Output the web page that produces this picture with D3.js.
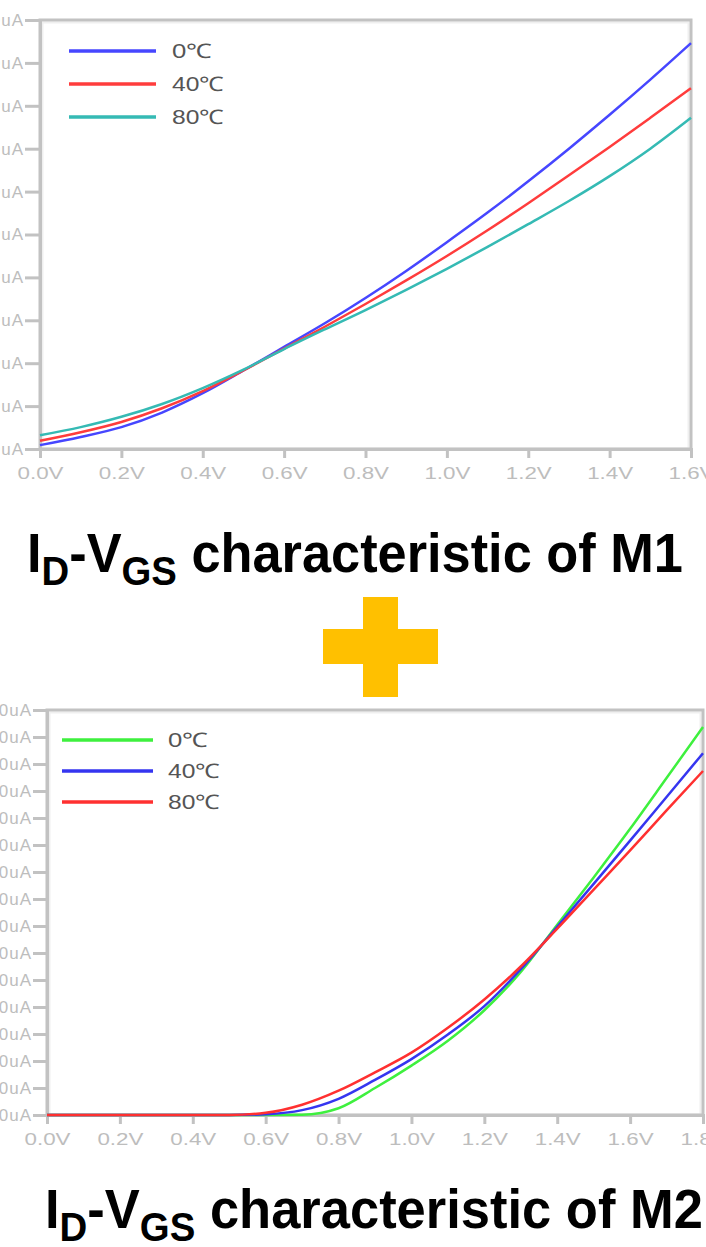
<!DOCTYPE html>
<html><head><meta charset="utf-8">
<script src="https://cdn.jsdelivr.net/npm/d3@7"></script>
<style>body{margin:0;background:#fff}svg{display:block}</style>
</head><body>
<svg id="c" width="706" height="1247"></svg>
<script>
// ---- M1 data (top chart) ----
const m1Vgs   = [0,0.1,0.2,0.3,0.4,0.5,0.6,0.7,0.8,0.9,1.0,1.1,1.2,1.3,1.4,1.5,1.6];
const m1_0C   = [0.9,2.8,5.1,8.5,13,18.3,23.8,29.3,35.2,41.5,48.2,55.1,62.4,70,77.9,86.1,94.6];
const m1_40C  = [1.9,3.9,6.3,9.5,13.5,18.3,23.4,28.5,33.8,39.3,45,51,57.3,63.8,70.4,77.2,84.1];
const m1_80C  = [3.2,5.1,7.5,10.5,14.2,18.5,23.3,27.9,32.4,37.1,42,47.1,52.4,57.8,63.6,70,77.2];
const m1XTicks = [0,0.2,0.4,0.6,0.8,1.0,1.2,1.4,1.6];
const m1YTicks = [0,10,20,30,40,50,60,70,80,90,100];
const m1Labels = ["0℃","40℃","80℃"];

// ---- M2 data (bottom chart) ----
const m2Vgs   = [0,0.1,0.2,0.3,0.4,0.5,0.6,0.7,0.8,0.9,1.0,1.1,1.2,1.3,1.4,1.5,1.6,1.7,1.8];
const m2_0C   = [0,0,0,0,0,0,0,0.1,2.5,10,18.3,27.5,38.8,53,70.5,88,106,124.8,143.7];
const m2_40C  = [0,0,0,0,0,0,0.3,1.8,6,13,20.7,29.8,40.3,54,69.7,85.6,101.6,117.8,134];
const m2_80C  = [0,0,0,0,0,0,0.8,3.8,9,15.8,23.1,32.3,42.8,55,69,83.5,98,112.8,127.4];
const m2XTicks = [0,0.2,0.4,0.6,0.8,1.0,1.2,1.4,1.6,1.8];
const m2YTicks = [0,10,20,30,40,50,60,70,80,90,100,110,120,130,140,150];
const m2Labels = ["0℃","40℃","80℃"];

const svg = d3.select("#c");
const AX = "#c2c2c2", LBL = "#bdbdbd";

function drawChart(o){
  const x = d3.scaleLinear().domain(o.xDom).range([o.left,o.right]);
  const y = d3.scaleLinear().domain(o.yDom).range([o.bottom,o.top]);
  const g = svg.append("g");
  g.append("rect").attr("x",o.left+2.5).attr("y",o.top+2.5)
   .attr("width",o.right-o.left-5).attr("height",o.bottom-o.top-3)
   .attr("fill","none").attr("stroke","#efefef").attr("stroke-width",2);
  g.append("rect").attr("x",o.left).attr("y",o.top)
   .attr("width",o.right-o.left).attr("height",o.bottom-o.top)
   .attr("fill","none").attr("stroke",AX).attr("stroke-width",3);
  const xa = g.append("g").attr("transform",`translate(0,${o.bottom})`)
    .call(d3.axisBottom(x).tickValues(o.xTicks).tickSize(9).tickPadding(9)
      .tickFormat(d=>d3.format(".1f")(d)+"V"));
  xa.select(".domain").attr("stroke",AX).attr("stroke-width",3);
  xa.selectAll(".tick line").attr("stroke",AX).attr("stroke-width",3);
  xa.selectAll(".tick text").attr("fill",LBL).attr("font-size",17)
    .attr("font-family","Liberation Sans, Arial, sans-serif")
    .attr("textLength",46).attr("lengthAdjust","spacingAndGlyphs");
  const ya = g.append("g").attr("transform",`translate(${o.left},0)`)
    .call(d3.axisLeft(y).tickValues(o.yTicks).tickSize(o.tick).tickPadding(1)
      .tickFormat(d=>d+"uA"));
  ya.select(".domain").attr("stroke",AX).attr("stroke-width",3);
  ya.selectAll(".tick line").attr("stroke",AX).attr("stroke-width",3);
  ya.selectAll(".tick text").attr("fill",LBL).attr("font-size",17)
    .attr("font-family","Liberation Sans, Arial, sans-serif").attr("letter-spacing",1);
  const line = d3.line().x(d=>x(d[0])).y(d=>y(d[1])).curve(d3.curveMonotoneX);
  o.order.forEach(i=>{
    const pts = o.vgs.map((v,k)=>[v,o.series[i][k]]);
    g.append("path").attr("d",line(pts)).attr("fill","none")
     .attr("stroke",o.colors[i]).attr("stroke-width",2.5).attr("stroke-linejoin","round");
  });
  o.labels.forEach((lab,i)=>{
    const ly = o.legY + i*o.legDy;
    g.append("line").attr("x1",o.legX1).attr("x2",o.legX2).attr("y1",ly).attr("y2",ly)
     .attr("stroke",o.colors[i]).attr("stroke-width",3.5);
    g.append("text").attr("x",o.legTx).attr("y",ly+7).text(lab)
     .attr("fill","#555").attr("font-size",20)
     .attr("font-family","Liberation Sans, Arial, sans-serif")
     .attr("textLength",lab.length>2?52:40).attr("lengthAdjust","spacingAndGlyphs");
  });
}

drawChart({xDom:[0,1.6],yDom:[0,100],left:40,right:691,top:20,bottom:449,tick:15,
  xTicks:m1XTicks,yTicks:m1YTicks,vgs:m1Vgs,series:[m1_0C,m1_40C,m1_80C],
  colors:["#4646ff","#ff3c3c","#35bab4"],order:[0,1,2],labels:m1Labels,
  legX1:69,legX2:156,legY:51,legDy:33,legTx:172});

drawChart({xDom:[0,1.8],yDom:[0,150],left:47,right:703,top:710,bottom:1115,tick:14,
  xTicks:m2XTicks,yTicks:m2YTicks,vgs:m2Vgs,series:[m2_0C,m2_40C,m2_80C],
  colors:["#3ef03e","#3535f0","#ff3030"],order:[0,1,2],labels:m2Labels,
  legX1:62,legX2:153,legY:740,legDy:31,legTx:168});

function title(xStart, baseline, width, suffix){
  const t = svg.append("text").attr("x",0).attr("y",baseline)
    .attr("font-family","Liberation Sans, Arial, sans-serif").attr("font-weight","bold")
    .attr("font-size",56).attr("fill","#000");
  t.append("tspan").text("I");
  t.append("tspan").text("D").attr("font-size",41).attr("dy",13);
  t.append("tspan").text("-V").attr("dy",-13);
  t.append("tspan").text("GS").attr("font-size",41).attr("dy",13);
  t.append("tspan").text(" characteristic of "+suffix).attr("dy",-13);
  const w = t.node().getBBox().width;
  t.attr("transform",`translate(${xStart},0) scale(${width/w},1)`);
}
title(27,572,656,"M1");
title(45,1228,658,"M2");

svg.append("rect").attr("x",363).attr("y",597).attr("width",35).attr("height",100).attr("fill","#ffc000");
svg.append("rect").attr("x",323).attr("y",629).attr("width",115).attr("height",35).attr("fill","#ffc000");
</script>
</body></html>
